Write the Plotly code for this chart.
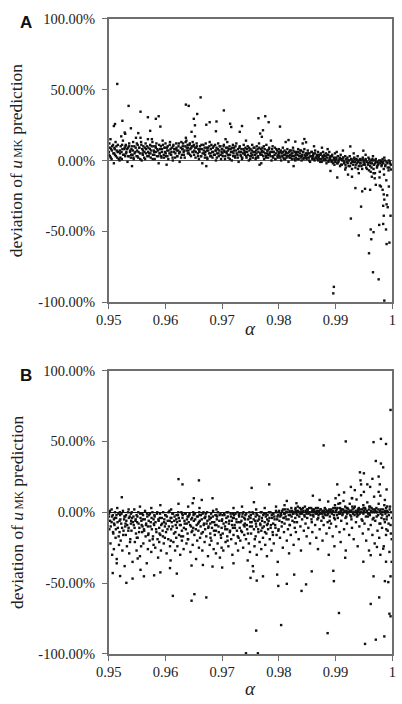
import plotly.graph_objects as go

# ---------------- Panel A data (alpha, deviation %) ----------------
A_band = [
(0.9500,6),(0.9501,12),(0.9502,3),(0.9504,8),(0.9505,1),(0.9506,10),(0.9508,5),(0.9509,-2),
(0.9510,9),(0.9511,4),(0.9512,13),(0.9514,7),(0.9515,2),(0.9516,11),(0.9517,6),(0.9519,0),
(0.9520,5),(0.9521,10),(0.9523,1),(0.9524,8),(0.9525,14),(0.9527,4),(0.9528,9),(0.9529,3),
(0.9530,11),(0.9531,6),(0.9533,-1),(0.9534,9),(0.9535,3),(0.9536,12),(0.9538,7),(0.9539,2),
(0.9540,8),(0.9542,4),(0.9543,13),(0.9544,1),(0.9545,10),(0.9547,6),(0.9548,16),(0.9549,3),
(0.9550,7),(0.9551,11),(0.9552,2),(0.9554,9),(0.9555,5),(0.9557,13),(0.9558,0),(0.9559,8),
(0.9560,4),(0.9561,10),(0.9563,6),(0.9564,1),(0.9565,12),(0.9566,8),(0.9568,3),(0.9569,15),
(0.9570,9),(0.9571,5),(0.9573,11),(0.9574,2),(0.9575,7),(0.9577,13),(0.9578,4),(0.9579,10),
(0.9580,6),(0.9581,1),(0.9583,9),(0.9584,12),(0.9585,3),(0.9587,7),(0.9588,-2),(0.9589,11),
(0.9590,5),(0.9592,10),(0.9593,2),(0.9594,8),(0.9595,14),(0.9597,4),(0.9598,9),(0.9599,6),
(0.9600,12),(0.9601,3),(0.9603,7),(0.9604,10),(0.9605,1),(0.9607,5),(0.9608,13),(0.9609,8),
(0.9610,4),(0.9611,9),(0.9613,0),(0.9614,11),(0.9615,6),(0.9617,2),(0.9618,8),(0.9619,12),
(0.9620,7),(0.9621,3),(0.9623,10),(0.9624,5),(0.9625,-1),(0.9627,9),(0.9628,13),(0.9629,4),
(0.9630,8),(0.9631,12),(0.9632,6),(0.9634,2),(0.9635,10),(0.9637,14),(0.9638,7),(0.9639,11),
(0.9640,9),(0.9641,5),(0.9643,12),(0.9644,8),(0.9645,3),(0.9647,10),(0.9648,13),(0.9649,6),
(0.9650,11),(0.9651,7),(0.9653,2),(0.9654,9),(0.9655,12),(0.9657,5),(0.9658,8),(0.9659,1),
(0.9660,6),(0.9661,10),(0.9663,3),(0.9664,8),(0.9665,-2),(0.9667,11),(0.9668,5),(0.9669,9),
(0.9670,4),(0.9671,12),(0.9673,7),(0.9674,1),(0.9675,9),(0.9677,5),(0.9678,13),(0.9679,3),
(0.9680,8),(0.9681,11),(0.9683,2),(0.9684,6),(0.9685,10),(0.9687,4),(0.9688,7),(0.9689,0),
(0.9690,9),(0.9691,5),(0.9693,12),(0.9694,3),(0.9695,7),(0.9697,10),(0.9698,1),(0.9699,6),
(0.9700,8),(0.9701,3),(0.9703,11),(0.9704,6),(0.9705,1),(0.9707,9),(0.9708,5),(0.9709,13),
(0.9710,7),(0.9711,2),(0.9713,10),(0.9714,4),(0.9715,8),(0.9717,0),(0.9718,6),(0.9719,11),
(0.9720,5),(0.9721,9),(0.9723,2),(0.9724,7),(0.9725,12),(0.9727,4),(0.9728,8),(0.9729,-1),
(0.9730,6),(0.9731,10),(0.9733,3),(0.9734,8),(0.9735,1),(0.9737,5),(0.9738,11),(0.9739,7),
(0.9740,4),(0.9741,9),(0.9743,2),(0.9744,6),(0.9745,10),(0.9747,0),(0.9748,7),(0.9749,3),
(0.9750,8),(0.9751,5),(0.9753,11),(0.9754,2),(0.9755,6),(0.9757,9),(0.9758,4),(0.9759,1),
(0.9760,7),(0.9761,10),(0.9763,3),(0.9764,6),(0.9765,12),(0.9767,5),(0.9768,8),(0.9769,-2),
(0.9770,4),(0.9771,9),(0.9773,6),(0.9774,1),(0.9775,8),(0.9777,3),(0.9778,11),(0.9779,5),
(0.9780,7),(0.9781,2),(0.9783,9),(0.9784,4),(0.9785,6),(0.9787,0),(0.9788,8),(0.9789,10),
(0.9790,3),(0.9791,6),(0.9793,9),(0.9794,1),(0.9795,5),(0.9797,7),(0.9798,2),(0.9799,4),
(0.9800,8),(0.9801,3),(0.9803,6),(0.9804,0),(0.9805,5),(0.9807,9),(0.9808,2),(0.9809,4),
(0.9810,7),(0.9811,1),(0.9813,5),(0.9814,3),(0.9815,8),(0.9817,-1),(0.9818,6),(0.9819,2),
(0.9820,4),(0.9821,7),(0.9823,1),(0.9824,5),(0.9825,9),(0.9827,3),(0.9828,6),(0.9829,0),
(0.9830,2),(0.9831,6),(0.9833,4),(0.9834,8),(0.9835,1),(0.9837,5),(0.9838,3),(0.9839,7),
(0.9840,0),(0.9841,4),(0.9843,6),(0.9844,2),(0.9845,8),(0.9847,3),(0.9848,5),(0.9849,1),
(0.9850,4),(0.9851,7),(0.9853,2),(0.9854,5),(0.9855,-1),(0.9857,3),(0.9858,6),(0.9859,1),
(0.9860,3),(0.9861,5),(0.9863,0),(0.9864,7),(0.9865,2),(0.9867,4),(0.9868,1),(0.9869,6),
(0.9870,2),(0.9871,4),(0.9873,-1),(0.9874,5),(0.9875,1),(0.9877,3),(0.9878,6),(0.9879,0),
(0.9880,3),(0.9881,1),(0.9883,5),(0.9884,-2),(0.9885,2),(0.9887,4),(0.9888,0),(0.9889,6),
(0.9890,1),(0.9891,3),(0.9893,-1),(0.9894,4),(0.9895,0),(0.9897,2),(0.9898,-3),(0.9899,5),
(0.9900,0),(0.9901,2),(0.9903,-2),(0.9904,3),(0.9905,-1),(0.9907,1),(0.9908,-4),(0.9909,4),
(0.9910,1),(0.9911,-3),(0.9913,2),(0.9914,0),(0.9915,-2),(0.9917,3),(0.9918,-5),(0.9919,1),
(0.9920,-1),(0.9921,2),(0.9923,-4),(0.9924,0),(0.9925,3),(0.9927,-2),(0.9928,1),(0.9929,-6),
(0.9930,0),(0.9931,-3),(0.9933,2),(0.9934,-1),(0.9935,-5),(0.9937,1),(0.9938,-2),(0.9939,3),
(0.9940,-1),(0.9941,-4),(0.9943,1),(0.9944,-2),(0.9945,0),(0.9947,-6),(0.9948,2),(0.9949,-3),
(0.9950,0),(0.9951,-2),(0.9953,1),(0.9954,-5),(0.9955,-1),(0.9957,-3),(0.9958,2),(0.9959,-7),
(0.9960,-1),(0.9961,-4),(0.9963,0),(0.9964,-2),(0.9965,1),(0.9967,-6),(0.9968,-3),(0.9969,0),
(0.9970,-2),(0.9971,1),(0.9973,-5),(0.9974,-1),(0.9975,-3),(0.9977,0),(0.9978,-8),(0.9979,-2),
(0.9980,-1),(0.9981,-4),(0.9983,1),(0.9984,-2),(0.9985,-6),(0.9987,0),(0.9988,-3),
(0.9990,-1),(0.9992,-5),(0.9994,0),(0.9996,-2),
(0.9503,15),(0.9522,17),(0.9541,-4),(0.9556,16),(0.9576,15),(0.9602,-3),(0.9636,16),(0.9652,17),
(0.9672,-4),(0.9706,15),(0.9742,14),(0.9766,-3),(0.9786,14),(0.9812,13),(0.9826,-4),(0.9842,12),
(0.9862,10),(0.9876,9),(0.9886,8),(0.9902,6),(0.9913,7),(0.9932,5),(0.9953,4),(0.9966,3),(0.9986,2),
]

A_band_dense = [
(0.95005,4),(0.95025,9),(0.95035,2),(0.95055,7),(0.95075,11),(0.95095,5),
(0.95105,8),(0.95125,3),(0.95135,10),(0.95155,6),(0.95175,1),(0.95195,7),
(0.95205,2),(0.95225,6),(0.95235,11),(0.95255,4),(0.95275,8),(0.95295,10),
(0.95305,5),(0.95325,8),(0.95345,3),(0.95355,10),(0.95375,6),(0.95395,4),
(0.95405,10),(0.95425,7),(0.95435,2),(0.95455,5),(0.95475,9),(0.95495,12),
(0.95505,3),(0.95525,6),(0.95535,9),(0.95555,1),(0.95575,11),(0.95595,5),
(0.95605,7),(0.95625,2),(0.95635,9),(0.95655,5),(0.95675,10),(0.95695,6),
(0.95705,3),(0.95725,8),(0.95735,5),(0.95755,10),(0.95775,1),(0.95795,7),
(0.95805,4),(0.95825,10),(0.95835,6),(0.95855,8),(0.95875,3),(0.95895,5),
(0.95905,8),(0.95925,3),(0.95935,6),(0.95955,11),(0.95975,2),(0.95995,9),
(0.96005,5),(0.96025,9),(0.96035,3),(0.96055,7),(0.96075,11),(0.96095,4),
(0.96105,6),(0.96125,2),(0.96135,10),(0.96155,8),(0.96175,5),(0.96195,9),
(0.96205,3),(0.96225,7),(0.96235,12),(0.96255,6),(0.96275,2),(0.96295,8),
(0.96305,10),(0.96325,4),(0.96335,7),(0.96355,13),(0.96375,9),(0.96395,5),
(0.96405,7),(0.96425,11),(0.96435,4),(0.96455,9),(0.96475,6),(0.96495,10),
(0.96505,4),(0.96525,9),(0.96535,6),(0.96555,10),(0.96575,3),(0.96595,7),
(0.96605,8),(0.96625,3),(0.96635,11),(0.96655,5),(0.96675,7),(0.96695,2),
(0.96705,6),(0.96725,9),(0.96735,2),(0.96755,7),(0.96775,10),(0.96795,5),
(0.96805,3),(0.96825,6),(0.96835,9),(0.96855,4),(0.96875,11),(0.96895,7),
(0.96905,2),(0.96925,8),(0.96935,5),(0.96955,10),(0.96975,4),(0.96995,8),
(0.97005,5),(0.97025,10),(0.97035,7),(0.97055,3),(0.97075,6),(0.97095,9),
(0.97105,4),(0.97125,8),(0.97135,1),(0.97155,6),(0.97175,9),(0.97195,3),
(0.97205,7),(0.97225,3),(0.97235,10),(0.97255,5),(0.97275,2),(0.97295,6),
(0.97305,9),(0.97325,4),(0.97335,6),(0.97355,2),(0.97375,8),(0.97395,5),
(0.97405,6),(0.97425,3),(0.97435,8),(0.97455,4),(0.97475,9),(0.97495,1),
(0.97505,3),(0.97525,7),(0.97535,4),(0.97555,9),(0.97575,6),(0.97595,2),
(0.97605,5),(0.97625,8),(0.97635,2),(0.97655,9),(0.97675,4),(0.97695,6),
(0.97705,7),(0.97725,3),(0.97735,10),(0.97755,5),(0.97775,2),(0.97795,7),
(0.97805,4),(0.97825,8),(0.97835,5),(0.97855,3),(0.97875,6),(0.97895,2),
(0.97905,6),(0.97925,4),(0.97935,1),(0.97955,8),(0.97975,3),(0.97995,6),
(0.98005,5),(0.98025,2),(0.98035,7),(0.98055,3),(0.98075,6),(0.98095,1),
(0.98105,4),(0.98125,6),(0.98135,2),(0.98155,5),(0.98175,3),(0.98195,7),
(0.98205,2),(0.98225,5),(0.98235,3),(0.98255,7),(0.98275,1),(0.98295,4),
(0.98305,5),(0.98325,1),(0.98335,6),(0.98355,3),(0.98375,7),(0.98395,2),
(0.98405,3),(0.98425,6),(0.98435,1),(0.98455,4),(0.98475,2),(0.98495,5),
(0.98505,2),(0.98525,5),(0.98535,0),(0.98555,3),(0.98575,6),(0.98595,2),
(0.98605,4),(0.98625,1),(0.98635,5),(0.98655,2),(0.98675,3),(0.98695,0),
(0.98705,3),(0.98725,1),(0.98735,4),(0.98755,-1),(0.98775,2),(0.98795,4),
(0.98805,1),(0.98825,3),(0.98835,0),(0.98855,4),(0.98875,-1),(0.98895,2),
(0.98905,2),(0.98925,0),(0.98935,3),(0.98955,-2),(0.98975,1),(0.98995,-1),
(0.99015,1),(0.99035,-2),(0.99055,0),(0.99075,2),(0.99095,-3),
(0.99115,0),(0.99135,2),(0.99155,-1),(0.99175,-3),(0.99195,1),
(0.99215,-2),(0.99235,0),(0.99255,-4),(0.99275,1),(0.99295,-1),
(0.99315,-1),(0.99335,1),(0.99355,-3),(0.99375,0),(0.99395,-6),
(0.99415,0),(0.99435,-2),(0.99455,-4),(0.99475,1),(0.99495,-1),
(0.99515,-3),(0.99535,0),(0.99555,-6),(0.99575,-2),(0.99595,1),
(0.99615,-2),(0.99635,-5),(0.99655,0),(0.99675,-3),(0.99695,-9),
(0.99715,-1),(0.99735,-4),(0.99755,-2),(0.99775,-12),(0.99795,0),
(0.99815,-3),(0.99835,-1),(0.99855,-10),(0.99875,-4),(0.99895,-14),
(0.99915,-2),(0.99935,-7),(0.99955,-1),(0.99975,-3),
]

A_outliers = [
(0.9515,54),(0.9509,24.3),(0.9511,25.7),(0.9524,28),(0.9535,38.5),(0.9528,19.7),(0.9529,18.8),
(0.9539,22.7),(0.9556,34.4),(0.9552,19.3),(0.9573,20.9),(0.9569,30.5),(0.9588,31.2),(0.9583,29.4),
(0.9591,23.9),(0.9636,39.4),(0.9641,38.5),(0.9662,44.5),(0.9656,32.8),(0.9650,29.4),(0.9652,24.8),
(0.9646,20.2),(0.9672,25.2),(0.9678,27),(0.9690,27.5),(0.9689,20.6),(0.9703,35.3),(0.9714,25.9),
(0.9716,23.6),(0.9731,20.2),(0.9735,24.3),(0.9764,29.8),(0.9776,31.2),(0.9782,27),(0.9767,19),
(0.9772,21.3),(0.9770,16.7),(0.9802,23.9),(0.9817,14.4),(0.9829,13.3),(0.9845,15.1),(0.9848,12.8),
(0.9926,9.9),(0.9949,6.9),
(0.9891,-7.4),(0.9903,-12),(0.9927,-41),(0.9935,-19.5),(0.9941,-52.9),(0.9945,-32.6),(0.9947,-21.8),
(0.9952,-20),(0.9961,-20.7),(0.9962,-48.7),(0.9963,-55.6),(0.9967,-50.6),(0.9959,-65.5),(0.9966,-78.9),
(0.9976,-83.9),(0.9977,-45.5),(0.9984,-44.8),(0.9985,-39),(0.9989,-48.7),(0.9990,-59),(0.9995,-58),
(0.9986,-98.9),(0.9897,-89.2),(0.9896,-93.8),(0.9971,-17.2),(0.9978,-17.7),(0.9980,-18.4),
(0.9983,-20.7),(0.9985,-24),(0.9986,-27.6),(0.9990,-31),(0.9984,-32),(0.9992,-33),(0.9991,-24.6),
(0.9994,-18.4),(0.9997,-39),(0.9998,-6.4),(0.9995,-5),(0.9969,-12.6),(0.9964,-11.5),(0.9967,-9),
(0.9962,-8),(0.9922,-10),(0.9929,-11.5),(0.9941,-9),(0.9917,-6.4),
]

# ---------------- Panel B data (alpha, deviation %) ----------------
B_band = [
(0.9500,-3),(0.9501,-12),(0.9502,1),(0.9503,-22),(0.9505,-7),(0.9506,-30),(0.9507,-2),(0.9508,-15),(0.9509,-5),(0.9509,-26),
(0.9510,-9),(0.9511,0),(0.9512,-18),(0.9513,-4),(0.9514,-33),(0.9516,-11),(0.9517,-1),(0.9518,-23),(0.9519,-6),(0.9519,-14),
(0.9520,-2),(0.9521,-20),(0.9522,-8),(0.9524,-27),(0.9525,1),(0.9526,-13),(0.9527,-5),(0.9528,-38),(0.9529,-10),(0.9529,-3),
(0.9530,-16),(0.9531,-6),(0.9532,-24),(0.9534,0),(0.9535,-11),(0.9536,-29),(0.9537,-3),(0.9538,-19),(0.9539,-8),(0.9539,-1),
(0.9540,-13),(0.9541,-4),(0.9542,-35),(0.9544,-9),(0.9545,2),(0.9546,-21),(0.9547,-6),(0.9548,-15),(0.9549,-2),(0.9549,-27),
(0.9550,-7),(0.9551,-18),(0.9552,0),(0.9554,-11),(0.9555,-31),(0.9556,-4),(0.9557,-24),(0.9558,-9),(0.9559,-1),(0.9559,-14),
(0.9560,-5),(0.9561,-22),(0.9562,-12),(0.9564,1),(0.9565,-17),(0.9566,-8),(0.9567,-36),(0.9568,-3),(0.9569,-26),(0.9569,-10),
(0.9570,-15),(0.9571,-2),(0.9572,-20),(0.9574,-7),(0.9575,-28),(0.9576,-12),(0.9577,0),(0.9578,-17),(0.9579,-5),(0.9579,-23),
(0.9580,-9),(0.9581,-3),(0.9582,-25),(0.9584,-14),(0.9585,-1),(0.9586,-19),(0.9587,-32),(0.9588,-6),(0.9589,-11),(0.9589,-21),
(0.9590,-4),(0.9591,-16),(0.9592,-27),(0.9594,-8),(0.9595,-13),(0.9596,0),(0.9597,-22),(0.9598,-5),(0.9599,-18),(0.9599,-10),
(0.9600,-2),(0.9601,-14),(0.9602,-29),(0.9604,-6),(0.9605,-19),(0.9606,-10),(0.9607,1),(0.9608,-24),(0.9609,-4),(0.9609,-34),
(0.9610,-12),(0.9611,-7),(0.9612,-1),(0.9614,-21),(0.9615,-15),(0.9616,-3),(0.9617,-27),(0.9618,-9),(0.9619,-18),(0.9619,-5),
(0.9620,-11),(0.9621,-24),(0.9622,-2),(0.9624,-16),(0.9625,-6),(0.9626,-30),(0.9627,-9),(0.9628,0),(0.9629,-20),(0.9629,-13),
(0.9630,-4),(0.9631,-17),(0.9632,-26),(0.9634,-8),(0.9635,-1),(0.9636,-12),(0.9637,-22),(0.9638,-5),(0.9639,-15),(0.9639,-3),
(0.9640,-19),(0.9641,-7),(0.9642,-2),(0.9644,-28),(0.9645,-10),(0.9646,-14),(0.9647,-4),(0.9648,-23),(0.9649,0),(0.9649,-11),
(0.9650,-6),(0.9651,-16),(0.9652,-1),(0.9654,-33),(0.9655,-9),(0.9656,-20),(0.9657,-3),(0.9658,-13),(0.9659,-25),(0.9659,-7),
(0.9660,-2),(0.9661,-18),(0.9662,-10),(0.9664,-5),(0.9665,-27),(0.9666,-14),(0.9667,0),(0.9668,-8),(0.9669,-21),(0.9669,-4),
(0.9670,-12),(0.9671,-1),(0.9672,-17),(0.9674,-6),(0.9675,-31),(0.9676,-10),(0.9677,-3),(0.9678,-23),(0.9679,-15),(0.9679,-8),
(0.9680,-4),(0.9681,-20),(0.9682,-11),(0.9684,1),(0.9685,-26),(0.9686,-7),(0.9687,-16),(0.9688,-2),(0.9689,-13),(0.9689,-29),
(0.9690,-9),(0.9691,-3),(0.9692,-22),(0.9694,-14),(0.9695,-6),(0.9696,-32),(0.9697,-1),(0.9698,-18),(0.9699,-11),(0.9699,-25),
(0.9700,-5),(0.9701,-15),(0.9702,-27),(0.9704,-2),(0.9705,-10),(0.9706,-21),(0.9707,-7),(0.9708,0),(0.9709,-17),(0.9709,-12),
(0.9710,-3),(0.9711,-24),(0.9712,-8),(0.9714,-13),(0.9715,-1),(0.9716,-19),(0.9717,-6),(0.9718,-30),(0.9719,-11),(0.9719,-4),
(0.9720,-16),(0.9721,-2),(0.9722,-9),(0.9724,-22),(0.9725,-5),(0.9726,-13),(0.9727,0),(0.9728,-27),(0.9729,-7),(0.9729,-18),
(0.9730,-3),(0.9731,-11),(0.9732,-20),(0.9734,-6),(0.9735,-14),(0.9736,-1),(0.9737,-25),(0.9738,-9),(0.9739,-4),(0.9739,-16),
(0.9740,-8),(0.9741,-2),(0.9742,-19),(0.9744,-12),(0.9745,-34),(0.9746,-5),(0.9747,-22),(0.9748,0),(0.9749,-10),(0.9749,-28),
(0.9750,-4),(0.9751,-15),(0.9752,-7),(0.9754,-38),(0.9755,-1),(0.9756,-12),(0.9757,-24),(0.9758,-6),(0.9759,-17),(0.9759,-3),
(0.9760,-10),(0.9761,-30),(0.9762,-2),(0.9764,-14),(0.9765,-5),(0.9766,-21),(0.9767,-8),(0.9768,0),(0.9769,-13),(0.9769,-26),
(0.9770,-4),(0.9771,-11),(0.9772,-18),(0.9774,-1),(0.9775,-7),(0.9776,-23),(0.9777,-3),(0.9778,-15),(0.9779,-9),(0.9779,-31),
(0.9780,-2),(0.9781,-12),(0.9782,-6),(0.9784,-19),(0.9785,0),(0.9786,-9),(0.9787,-27),(0.9788,-4),(0.9789,-14),(0.9789,-1),
(0.9790,-8),(0.9791,-22),(0.9792,-3),(0.9794,-11),(0.9795,1),(0.9796,-16),(0.9797,-5),(0.9798,-35),(0.9799,-2),(0.9799,-13),
(0.9800,0),(0.9801,-6),(0.9802,-18),(0.9804,-2),(0.9805,-10),(0.9806,1),(0.9807,-25),(0.9808,-4),(0.9809,-14),(0.9809,-1),
(0.9810,-8),(0.9811,2),(0.9812,-3),(0.9814,-20),(0.9815,0),(0.9816,-12),(0.9817,-5),(0.9818,-29),(0.9819,1),(0.9819,-9),
(0.9820,-2),(0.9821,-16),(0.9822,3),(0.9824,-6),(0.9825,-1),(0.9826,-23),(0.9827,0),(0.9828,-11),(0.9829,-4),(0.9829,2),
(0.9830,-14),(0.9831,-1),(0.9832,-7),(0.9834,1),(0.9835,-19),(0.9836,-3),(0.9837,3),(0.9838,-10),(0.9839,0),(0.9839,-27),
(0.9840,2),(0.9841,-5),(0.9842,0),(0.9844,-13),(0.9845,-2),(0.9846,4),(0.9847,-8),(0.9848,1),(0.9849,-17),(0.9849,-1),
(0.9850,-4),(0.9851,2),(0.9852,-11),(0.9854,0),(0.9855,-22),(0.9856,-2),(0.9857,3),(0.9858,-7),(0.9859,1),(0.9859,-14),
(0.9860,0),(0.9861,-3),(0.9862,2),(0.9864,-9),(0.9865,-1),(0.9866,-18),(0.9867,1),(0.9868,-5),(0.9869,-26),(0.9869,3),
(0.9870,-2),(0.9871,0),(0.9872,-12),(0.9874,2),(0.9875,-6),(0.9876,-1),(0.9877,-20),(0.9878,1),(0.9879,-4),(0.9879,-9),
(0.9880,0),(0.9881,3),(0.9882,-2),(0.9884,-15),(0.9885,1),(0.9886,-7),(0.9887,-1),(0.9888,-30),(0.9889,2),(0.9889,-11),
(0.9890,-3),(0.9891,1),(0.9892,-8),(0.9894,0),(0.9895,-17),(0.9896,3),(0.9897,-2),(0.9898,-24),(0.9899,5),(0.9899,-5),
(0.9900,0),(0.9901,-10),(0.9902,2),(0.9904,-4),(0.9905,6),(0.9906,-1),(0.9907,-14),(0.9908,3),(0.9909,-21),(0.9909,1),
(0.9910,-6),(0.9911,2),(0.9912,-2),(0.9914,8),(0.9915,-12),(0.9916,0),(0.9917,4),(0.9918,-27),(0.9919,-3),(0.9919,1),
(0.9920,-8),(0.9921,3),(0.9922,0),(0.9924,-16),(0.9925,6),(0.9926,-2),(0.9927,1),(0.9928,-5),(0.9929,10),(0.9929,-11),
(0.9930,2),(0.9931,-1),(0.9932,-19),(0.9934,4),(0.9935,0),(0.9936,-7),(0.9937,9),(0.9938,-3),(0.9939,1),(0.9939,-24),
(0.9940,-2),(0.9941,3),(0.9942,-10),(0.9944,0),(0.9945,12),(0.9946,-5),(0.9947,2),(0.9948,-15),(0.9949,5),(0.9949,-1),
(0.9950,1),(0.9951,-8),(0.9952,3),(0.9954,-20),(0.9955,0),(0.9956,7),(0.9957,-3),(0.9958,-12),(0.9959,2),(0.9959,-27),
(0.9960,-1),(0.9961,4),(0.9962,-9),(0.9964,0),(0.9965,-16),(0.9966,2),(0.9967,-4),(0.9968,11),(0.9969,-22),(0.9969,1),
(0.9970,-6),(0.9971,0),(0.9972,3),(0.9974,-13),(0.9975,-2),(0.9976,6),(0.9977,-18),(0.9978,1),(0.9979,-8),(0.9979,-30),
(0.9980,2),(0.9981,-4),(0.9982,-11),(0.9984,0),(0.9985,-24),(0.9986,5),(0.9987,-7),(0.9988,-1),(0.9989,-16),(0.9989,3),
(0.9990,-5),(0.9991,1),(0.9992,-13),(0.9994,-2),(0.9995,-28),(0.9996,4),(0.9997,-9),(0.9998,0),(0.9999,-19),(0.9999,-35),
(0.9505,2),(0.9515,3),(0.9535,2),(0.9555,4),(0.9575,3),(0.9591,5),(0.9610,2),(0.9640,4),(0.9660,3),
(0.9690,2),(0.9720,3),(0.9735,4),(0.9760,2),(0.9775,3),(0.9795,4),(0.9810,5),
]

B_band_dense = [
(0.95005,-1),(0.95025,-6),(0.95035,-10),(0.95055,-3),(0.95075,-14),(0.95095,-8),
(0.95105,-4),(0.95125,-12),(0.95135,-2),(0.95155,-7),(0.95175,-17),(0.95195,0),
(0.95205,-5),(0.95225,-1),(0.95235,-11),(0.95255,-16),(0.95275,-3),(0.95295,-8),
(0.95305,-2),(0.95325,-9),(0.95345,-13),(0.95355,-4),(0.95375,-21),(0.95395,-6),
(0.95405,0),(0.95425,-7),(0.95435,-3),(0.95455,-11),(0.95475,-5),(0.95495,-18),
(0.95505,-3),(0.95525,-8),(0.95535,-14),(0.95555,-1),(0.95575,-6),(0.95595,-10),
(0.95605,-2),(0.95625,-13),(0.95635,-5),(0.95655,-9),(0.95675,-1),(0.95695,-16),
(0.95705,-6),(0.95725,-1),(0.95735,-10),(0.95755,-4),(0.95775,-19),(0.95795,-8),
(0.95805,-2),(0.95825,-7),(0.95835,-12),(0.95855,0),(0.95875,-5),(0.95895,-15),
(0.95905,-1),(0.95925,-9),(0.95935,-4),(0.95955,-17),(0.95975,-7),(0.95995,-2),
(0.96005,-8),(0.96025,-3),(0.96035,-12),(0.96055,0),(0.96075,-6),(0.96095,-20),
(0.96105,-4),(0.96125,-10),(0.96135,-1),(0.96155,-6),(0.96175,-14),(0.96195,-2),
(0.96205,-7),(0.96225,0),(0.96235,-4),(0.96255,-9),(0.96275,-17),(0.96295,-1),
(0.96305,-2),(0.96325,-11),(0.96335,-6),(0.96355,-1),(0.96375,-8),(0.96395,-19),
(0.96405,-3),(0.96425,-1),(0.96435,-9),(0.96455,-5),(0.96475,-13),(0.96495,-2),
(0.96505,-1),(0.96525,-5),(0.96535,-12),(0.96555,-3),(0.96575,-8),(0.96595,0),
(0.96605,-6),(0.96625,-2),(0.96635,-15),(0.96655,-1),(0.96675,-9),(0.96695,-4),
(0.96705,-3),(0.96725,-8),(0.96735,0),(0.96755,-11),(0.96775,-5),(0.96795,-18),
(0.96805,-1),(0.96825,-7),(0.96835,-3),(0.96855,-13),(0.96875,-9),(0.96895,-2),
(0.96905,-5),(0.96925,0),(0.96935,-10),(0.96955,-2),(0.96975,-16),(0.96995,-6),
(0.97005,-2),(0.97025,-8),(0.97035,-1),(0.97055,-12),(0.97075,-4),(0.97095,-20),
(0.97105,0),(0.97125,-6),(0.97135,-14),(0.97155,-3),(0.97175,-9),(0.97195,-1),
(0.97205,-4),(0.97225,-11),(0.97235,-1),(0.97255,-7),(0.97275,-17),(0.97295,-2),
(0.97305,-1),(0.97325,-7),(0.97335,-13),(0.97355,-3),(0.97375,0),(0.97395,-10),
(0.97405,-5),(0.97425,-1),(0.97435,-9),(0.97455,-15),(0.97475,-3),(0.97495,-7),
(0.97505,-2),(0.97525,-10),(0.97535,0),(0.97555,-5),(0.97575,-19),(0.97595,-8),
(0.97605,-1),(0.97625,-6),(0.97635,-12),(0.97655,-3),(0.97675,-9),(0.97695,0),
(0.97705,-6),(0.97725,-2),(0.97735,-10),(0.97755,-14),(0.97775,-1),(0.97795,-5),
(0.97805,-8),(0.97825,0),(0.97835,-4),(0.97855,-11),(0.97875,-2),(0.97895,-16),
(0.97905,-1),(0.97925,-5),(0.97935,-9),(0.97955,0),(0.97975,-3),(0.97995,-12),
(0.98005,1),(0.98025,-3),(0.98035,-1),(0.98055,-7),(0.98075,2),(0.98095,-4),
(0.98105,-1),(0.98125,0),(0.98135,-5),(0.98155,2),(0.98175,-2),(0.98195,-9),
(0.98205,0),(0.98225,-3),(0.98235,1),(0.98255,-1),(0.98275,-7),(0.98295,3),
(0.98305,1),(0.98325,-2),(0.98335,4),(0.98355,0),(0.98375,-1),(0.98395,2),
(0.98405,-1),(0.98425,3),(0.98435,1),(0.98455,-3),(0.98475,0),(0.98495,2),
(0.98505,1),(0.98525,-1),(0.98535,3),(0.98555,0),(0.98575,-5),(0.98595,2),
(0.98605,-2),(0.98625,1),(0.98635,0),(0.98655,3),(0.98675,-1),(0.98695,-4),
(0.98705,1),(0.98725,-1),(0.98735,2),(0.98755,0),(0.98775,-3),(0.98795,1),
(0.98805,-1),(0.98825,2),(0.98835,0),(0.98855,-2),(0.98875,1),(0.98895,-6),
(0.98905,0),(0.98925,2),(0.98935,-1),(0.98955,1),(0.98975,-4),(0.98995,3),
(0.99005,1),(0.99025,-2),(0.99035,3),(0.99055,0),(0.99075,-1),(0.99095,2),
(0.99105,0),(0.99125,-1),(0.99135,2),(0.99155,1),(0.99175,-4),(0.99195,3),
(0.99205,-1),(0.99225,2),(0.99235,0),(0.99255,1),(0.99275,-3),(0.99295,4),
(0.99305,0),(0.99325,3),(0.99335,-2),(0.99355,1),(0.99375,-1),(0.99395,2),
(0.99405,1),(0.99425,-1),(0.99435,2),(0.99455,0),(0.99475,-6),(0.99495,3),
(0.99505,0),(0.99525,2),(0.99535,-3),(0.99555,1),(0.99575,-1),(0.99595,4),
(0.99605,-2),(0.99625,1),(0.99635,3),(0.99655,-5),(0.99675,0),(0.99695,2),
(0.99705,1),(0.99725,-3),(0.99735,0),(0.99755,2),(0.99775,-8),(0.99795,-1),
(0.99805,0),(0.99825,-2),(0.99835,2),(0.99855,-5),(0.99875,1),(0.99895,-12),
(0.99905,-3),(0.99925,0),(0.99935,-8),(0.99955,2),(0.99975,-15),(0.99995,-4),
]

B_outliers = [
(0.9523,10.6),(0.9623,23.4),(0.9630,19.7),(0.9659,22.5),(0.9623,6),(0.9650,9.9),(0.9648,6.4),
(0.9664,8.7),(0.9683,9.9),(0.9752,17.2),(0.9783,19.7),(0.9756,7.1),(0.9814,8),(0.9831,6.4),
(0.9860,11.7),(0.9879,47.2),(0.9918,50),(0.9903,19.7),(0.9906,12.2),(0.9900,9.9),(0.9915,14),
(0.9927,17.9),(0.9929,9.9),(0.9934,15.6),(0.9943,28.2),(0.9950,27.5),(0.9944,22.5),(0.9945,19.7),
(0.9950,14.4),(0.9956,19.7),(0.9961,17.9),(0.9967,49.5),(0.9971,36.2),(0.9976,25.2),(0.9965,23.6),
(0.9978,19.7),(0.9976,14.4),(0.9979,11.7),(0.9980,51.8),(0.9980,34.4),(0.9984,31.7),(0.9989,48.2),
(0.9990,16.1),(0.9987,8.7),(0.9991,4.1),(0.9997,72.2),(0.9872,8.7),(0.9887,7.6),(0.9908,6.4),
(0.9507,-42.9),(0.9514,-36),(0.9520,-45),(0.9531,-49.8),(0.9542,-46.8),(0.9551,-32.6),(0.9556,-40.6),
(0.9562,-45.2),(0.9580,-44.5),(0.9591,-42.4),(0.9613,-59),(0.9608,-39.4),(0.9620,-43.3),(0.9646,-62.4),
(0.9651,-57.8),(0.9672,-60.1),(0.9646,-37.6),(0.9666,-37.2),(0.9683,-38.3),(0.9700,-39),(0.9720,-36),
(0.9750,-46.3),(0.9755,-41.7),(0.9761,-48.2),(0.9760,-83.5),(0.9742,-99.5),(0.9763,-99.5),(0.9772,-45.2),
(0.9797,-44),(0.9799,-52),(0.9804,-79.6),(0.9814,-50.5),(0.9827,-44),(0.9840,-55.5),(0.9848,-50.9),
(0.9858,-41.7),(0.9886,-85.3),(0.9897,-48.6),(0.9896,-41.3),(0.9906,-71.1),(0.9917,-32.1),(0.9949,-34.9),
(0.9952,-92.9),(0.9962,-64.7),(0.9967,-45.2),(0.9971,-89.9),(0.9977,-60.1),(0.9986,-87.6),(0.9987,-48.6),
(0.9993,-49.3),(0.9995,-71.6),(0.9997,-73.4),(0.9997,-45.2),(0.9989,-34.9),(0.9962,-30.3),(0.9973,-24.5),
(0.9984,-25.7),
]

x_tick_vals = [0.95, 0.96, 0.97, 0.98, 0.99, 1.0]
x_tick_text = ["0.95", "0.96", "0.97", "0.98", "0.99", "1"]
y_tick_vals = [-100, -50, 0, 50, 100]
y_tick_text = ["-100.00%", "-50.00%", "0.00%", "50.00%", "100.00%"]

W, H = 402, 704
SERIF = "Times New Roman, Liberation Serif, serif"
AX = "#6f6f6f"

def xy(rows):
    return [r[0] for r in rows], [r[1] for r in rows]

fig = go.Figure()
marker = dict(symbol="square", size=2.4, color="#111111", line=dict(width=0))
for rows, xa, ya in [(A_band + A_band_dense + A_outliers, "x", "y"),
                     (B_band + B_band_dense + B_outliers, "x2", "y2")]:
    xs, ys = xy(rows)
    fig.add_trace(go.Scatter(x=xs, y=ys, mode="markers", marker=marker,
                             xaxis=xa, yaxis=ya, hoverinfo="skip", cliponaxis=False))

def xaxis(anchor):
    return dict(domain=[100 / W, 396 / W], range=[0.95, 1.0], anchor=anchor,
                tickmode="array", tickvals=x_tick_vals, ticktext=x_tick_text,
                ticks="outside", ticklen=5, tickwidth=1.2, tickcolor=AX,
                showline=True, linecolor=AX, linewidth=1.5, mirror=True,
                showgrid=False, zeroline=False, ticklabelstandoff=-1,
                tickfont=dict(family=SERIF, size=14.5, color="#222"))

def yaxis(anchor, top, bottom, zc):
    return dict(domain=[1 - bottom / H, 1 - top / H], range=[-100, 100], anchor=anchor,
                tickmode="array", tickvals=y_tick_vals, ticktext=y_tick_text,
                ticks="outside", ticklen=5, tickwidth=1.2, tickcolor=AX,
                showline=True, linecolor=AX, linewidth=1.5, mirror=True,
                showgrid=False, zeroline=True, zerolinecolor=zc, zerolinewidth=1.4,
                ticklabelstandoff=4,
                tickfont=dict(family=SERIF, size=14.5, color="#222"))

title_txt = ("deviation of <i>u</i><span style='font-size:11.5px'>\u2009MK</span> prediction")

fig.update_layout(
    width=W, height=H, margin=dict(l=0, r=0, t=0, b=0),
    paper_bgcolor="white", plot_bgcolor="white", showlegend=False,
    xaxis=xaxis("y"), yaxis=yaxis("x", 11, 301, "#5a5a5a"),
    xaxis2=xaxis("y2"), yaxis2=yaxis("x2", 371, 661, "#111111"),
    annotations=[
        dict(text="<b>A</b>", x=14 / W, y=1 - 15 / H, xref="paper", yref="paper",
             showarrow=False, xanchor="center", yanchor="middle",
             font=dict(family="Liberation Sans, Arial, sans-serif", size=17, color="#111")),
        dict(text="<b>B</b>", x=14 / W, y=1 - 376 / H, xref="paper", yref="paper",
             showarrow=False, xanchor="center", yanchor="middle",
             font=dict(family="Liberation Sans, Arial, sans-serif", size=17, color="#111")),
        dict(text=title_txt, x=4 / W, y=1 - 156 / H, xref="paper", yref="paper",
             showarrow=False, textangle=-90, xanchor="center", yanchor="middle",
             font=dict(family=SERIF, size=17.5, color="#222")),
        dict(text=title_txt, x=4 / W, y=1 - 516 / H, xref="paper", yref="paper",
             showarrow=False, textangle=-90, xanchor="center", yanchor="middle",
             font=dict(family=SERIF, size=17.5, color="#222")),
        dict(text="<i>α</i>", x=248 / W, y=1 - 328 / H, xref="paper", yref="paper",
             showarrow=False, xanchor="center", yanchor="middle",
             font=dict(family=SERIF, size=19, color="#222")),
        dict(text="<i>α</i>", x=248 / W, y=1 - 696 / H, xref="paper", yref="paper",
             showarrow=False, xanchor="center", yanchor="middle",
             font=dict(family=SERIF, size=19, color="#222")),
    ],
)

fig.write_html("out.html")
